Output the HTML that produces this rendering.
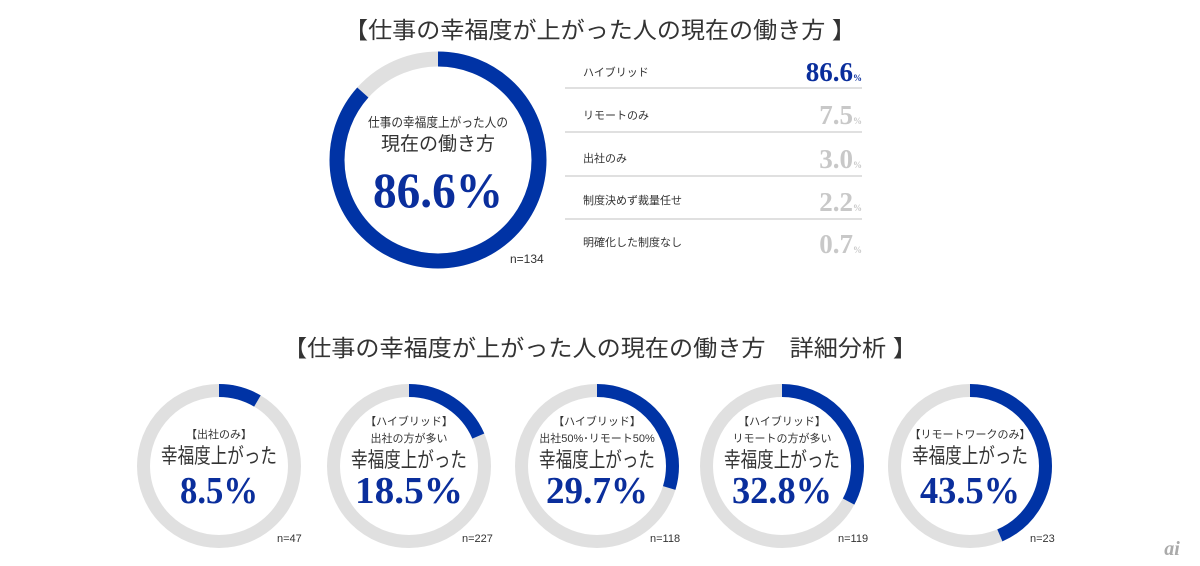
<!DOCTYPE html>
<html><head><meta charset="utf-8"><style>
html,body{margin:0;padding:0;background:#fff}
svg{display:block}
.jp{font-family:"Liberation Sans","Noto Sans CJK JP",sans-serif;fill:#333}
.num{font-family:"Liberation Serif","Noto Serif CJK SC",serif;font-weight:bold;fill:#0a2e9c}
</style></head><body>
<svg width="1200" height="566" viewBox="0 0 1200 566" xmlns="http://www.w3.org/2000/svg">
<text class="jp" x="600" y="38" text-anchor="middle" font-size="23" fill="#222" textLength="512" lengthAdjust="spacingAndGlyphs">【仕事の幸福度が上がった人の現在の働き方 】</text>
<!-- big donut -->
<circle cx="438" cy="160" r="101" fill="none" stroke="#e0e0e0" stroke-width="15"/>
<circle cx="438" cy="160" r="101" fill="none" stroke="#0033a5" stroke-width="15" stroke-dasharray="549.6 1000" transform="rotate(-90 438 160)"/>
<text class="jp" x="438" y="127" text-anchor="middle" font-size="13" textLength="140" lengthAdjust="spacingAndGlyphs">仕事の幸福度上がった人の</text>
<text class="jp" x="438" y="150" text-anchor="middle" font-size="19">現在の働き方</text>
<text class="num" x="438" y="207" text-anchor="middle" font-size="50" textLength="130" lengthAdjust="spacingAndGlyphs">86.6%</text>
<text class="jp" x="510" y="263" font-size="12">n=134</text>
<!-- list -->
<g class="jp" font-size="11">
<text x="583" y="76">ハイブリッド</text>
<text x="583" y="119">リモートのみ</text>
<text x="583" y="162">出社のみ</text>
<text x="583" y="204">制度決めず裁量任せ</text>
<text x="583" y="246">明確化した制度なし</text>
</g>
<g stroke="#d6d6d6" stroke-width="1.5">
<line x1="565" y1="88" x2="862" y2="88"/><line x1="565" y1="132" x2="862" y2="132"/>
<line x1="565" y1="176" x2="862" y2="176"/><line x1="565" y1="219" x2="862" y2="219"/>
</g>
<g font-family="Liberation Serif,serif" font-weight="bold" text-anchor="end">
<text x="862" y="81" font-size="27" fill="#0a2e9c">86.6<tspan font-size="9">%</tspan></text>
<text x="862" y="124" font-size="27" fill="#c8c8c8">7.5<tspan font-size="9">%</tspan></text>
<text x="862" y="168" font-size="27" fill="#c8c8c8">3.0<tspan font-size="9">%</tspan></text>
<text x="862" y="211" font-size="27" fill="#c8c8c8">2.2<tspan font-size="9">%</tspan></text>
<text x="862" y="253" font-size="27" fill="#c8c8c8">0.7<tspan font-size="9">%</tspan></text>
</g>
<text class="jp" x="600" y="356" text-anchor="middle" font-size="23" fill="#222" textLength="634" lengthAdjust="spacingAndGlyphs">【仕事の幸福度が上がった人の現在の働き方　詳細分析 】</text>
<!-- small donuts -->
<g>
<circle cx="219" cy="466" r="75.5" fill="none" stroke="#e0e0e0" stroke-width="13"/>
<circle cx="219" cy="466" r="75.5" fill="none" stroke="#0033a5" stroke-width="13" stroke-dasharray="40.3 1000" transform="rotate(-90 219 466)"/>
<text class="jp" x="219" y="438" text-anchor="middle" font-size="11">【出社のみ】</text>
<text class="jp" x="219" y="463" text-anchor="middle" font-size="21" textLength="116" lengthAdjust="spacingAndGlyphs">幸福度上がった</text>
<text class="num" x="219" y="503" text-anchor="middle" font-size="38" textLength="78" lengthAdjust="spacingAndGlyphs">8.5%</text>
<text class="jp" x="277" y="542" font-size="11">n=47</text>
</g>
<g>
<circle cx="409" cy="466" r="75.5" fill="none" stroke="#e0e0e0" stroke-width="13"/>
<circle cx="409" cy="466" r="75.5" fill="none" stroke="#0033a5" stroke-width="13" stroke-dasharray="87.8 1000" transform="rotate(-90 409 466)"/>
<text class="jp" x="409" y="425" text-anchor="middle" font-size="11">【ハイブリッド】</text>
<text class="jp" x="409" y="442" text-anchor="middle" font-size="11">出社の方が多い</text>
<text class="jp" x="409" y="467" text-anchor="middle" font-size="21" textLength="116" lengthAdjust="spacingAndGlyphs">幸福度上がった</text>
<text class="num" x="409" y="503" text-anchor="middle" font-size="38" textLength="108" lengthAdjust="spacingAndGlyphs">18.5%</text>
<text class="jp" x="462" y="542" font-size="11">n=227</text>
</g>
<g>
<circle cx="597" cy="466" r="75.5" fill="none" stroke="#e0e0e0" stroke-width="13"/>
<circle cx="597" cy="466" r="75.5" fill="none" stroke="#0033a5" stroke-width="13" stroke-dasharray="140.9 1000" transform="rotate(-90 597 466)"/>
<text class="jp" x="597" y="425" text-anchor="middle" font-size="11">【ハイブリッド】</text>
<text class="jp" x="597" y="442" text-anchor="middle" font-size="11">出社50%･リモート50%</text>
<text class="jp" x="597" y="467" text-anchor="middle" font-size="21" textLength="116" lengthAdjust="spacingAndGlyphs">幸福度上がった</text>
<text class="num" x="597" y="503" text-anchor="middle" font-size="38" textLength="102" lengthAdjust="spacingAndGlyphs">29.7%</text>
<text class="jp" x="650" y="542" font-size="11">n=118</text>
</g>
<g>
<circle cx="782" cy="466" r="75.5" fill="none" stroke="#e0e0e0" stroke-width="13"/>
<circle cx="782" cy="466" r="75.5" fill="none" stroke="#0033a5" stroke-width="13" stroke-dasharray="155.6 1000" transform="rotate(-90 782 466)"/>
<text class="jp" x="782" y="425" text-anchor="middle" font-size="11">【ハイブリッド】</text>
<text class="jp" x="782" y="442" text-anchor="middle" font-size="11">リモートの方が多い</text>
<text class="jp" x="782" y="467" text-anchor="middle" font-size="21" textLength="116" lengthAdjust="spacingAndGlyphs">幸福度上がった</text>
<text class="num" x="782" y="503" text-anchor="middle" font-size="38" textLength="100" lengthAdjust="spacingAndGlyphs">32.8%</text>
<text class="jp" x="838" y="542" font-size="11">n=119</text>
</g>
<g>
<circle cx="970" cy="466" r="75.5" fill="none" stroke="#e0e0e0" stroke-width="13"/>
<circle cx="970" cy="466" r="75.5" fill="none" stroke="#0033a5" stroke-width="13" stroke-dasharray="206.4 1000" transform="rotate(-90 970 466)"/>
<text class="jp" x="970" y="438" text-anchor="middle" font-size="11">【リモートワークのみ】</text>
<text class="jp" x="970" y="463" text-anchor="middle" font-size="21" textLength="116" lengthAdjust="spacingAndGlyphs">幸福度上がった</text>
<text class="num" x="970" y="503" text-anchor="middle" font-size="38" textLength="100" lengthAdjust="spacingAndGlyphs">43.5%</text>
<text class="jp" x="1030" y="542" font-size="11">n=23</text>
</g>
<text x="1172" y="555" text-anchor="middle" font-family="Liberation Serif,serif" font-style="italic" font-weight="bold" font-size="20" fill="#aaa">ai</text>
</svg>
</body></html>
